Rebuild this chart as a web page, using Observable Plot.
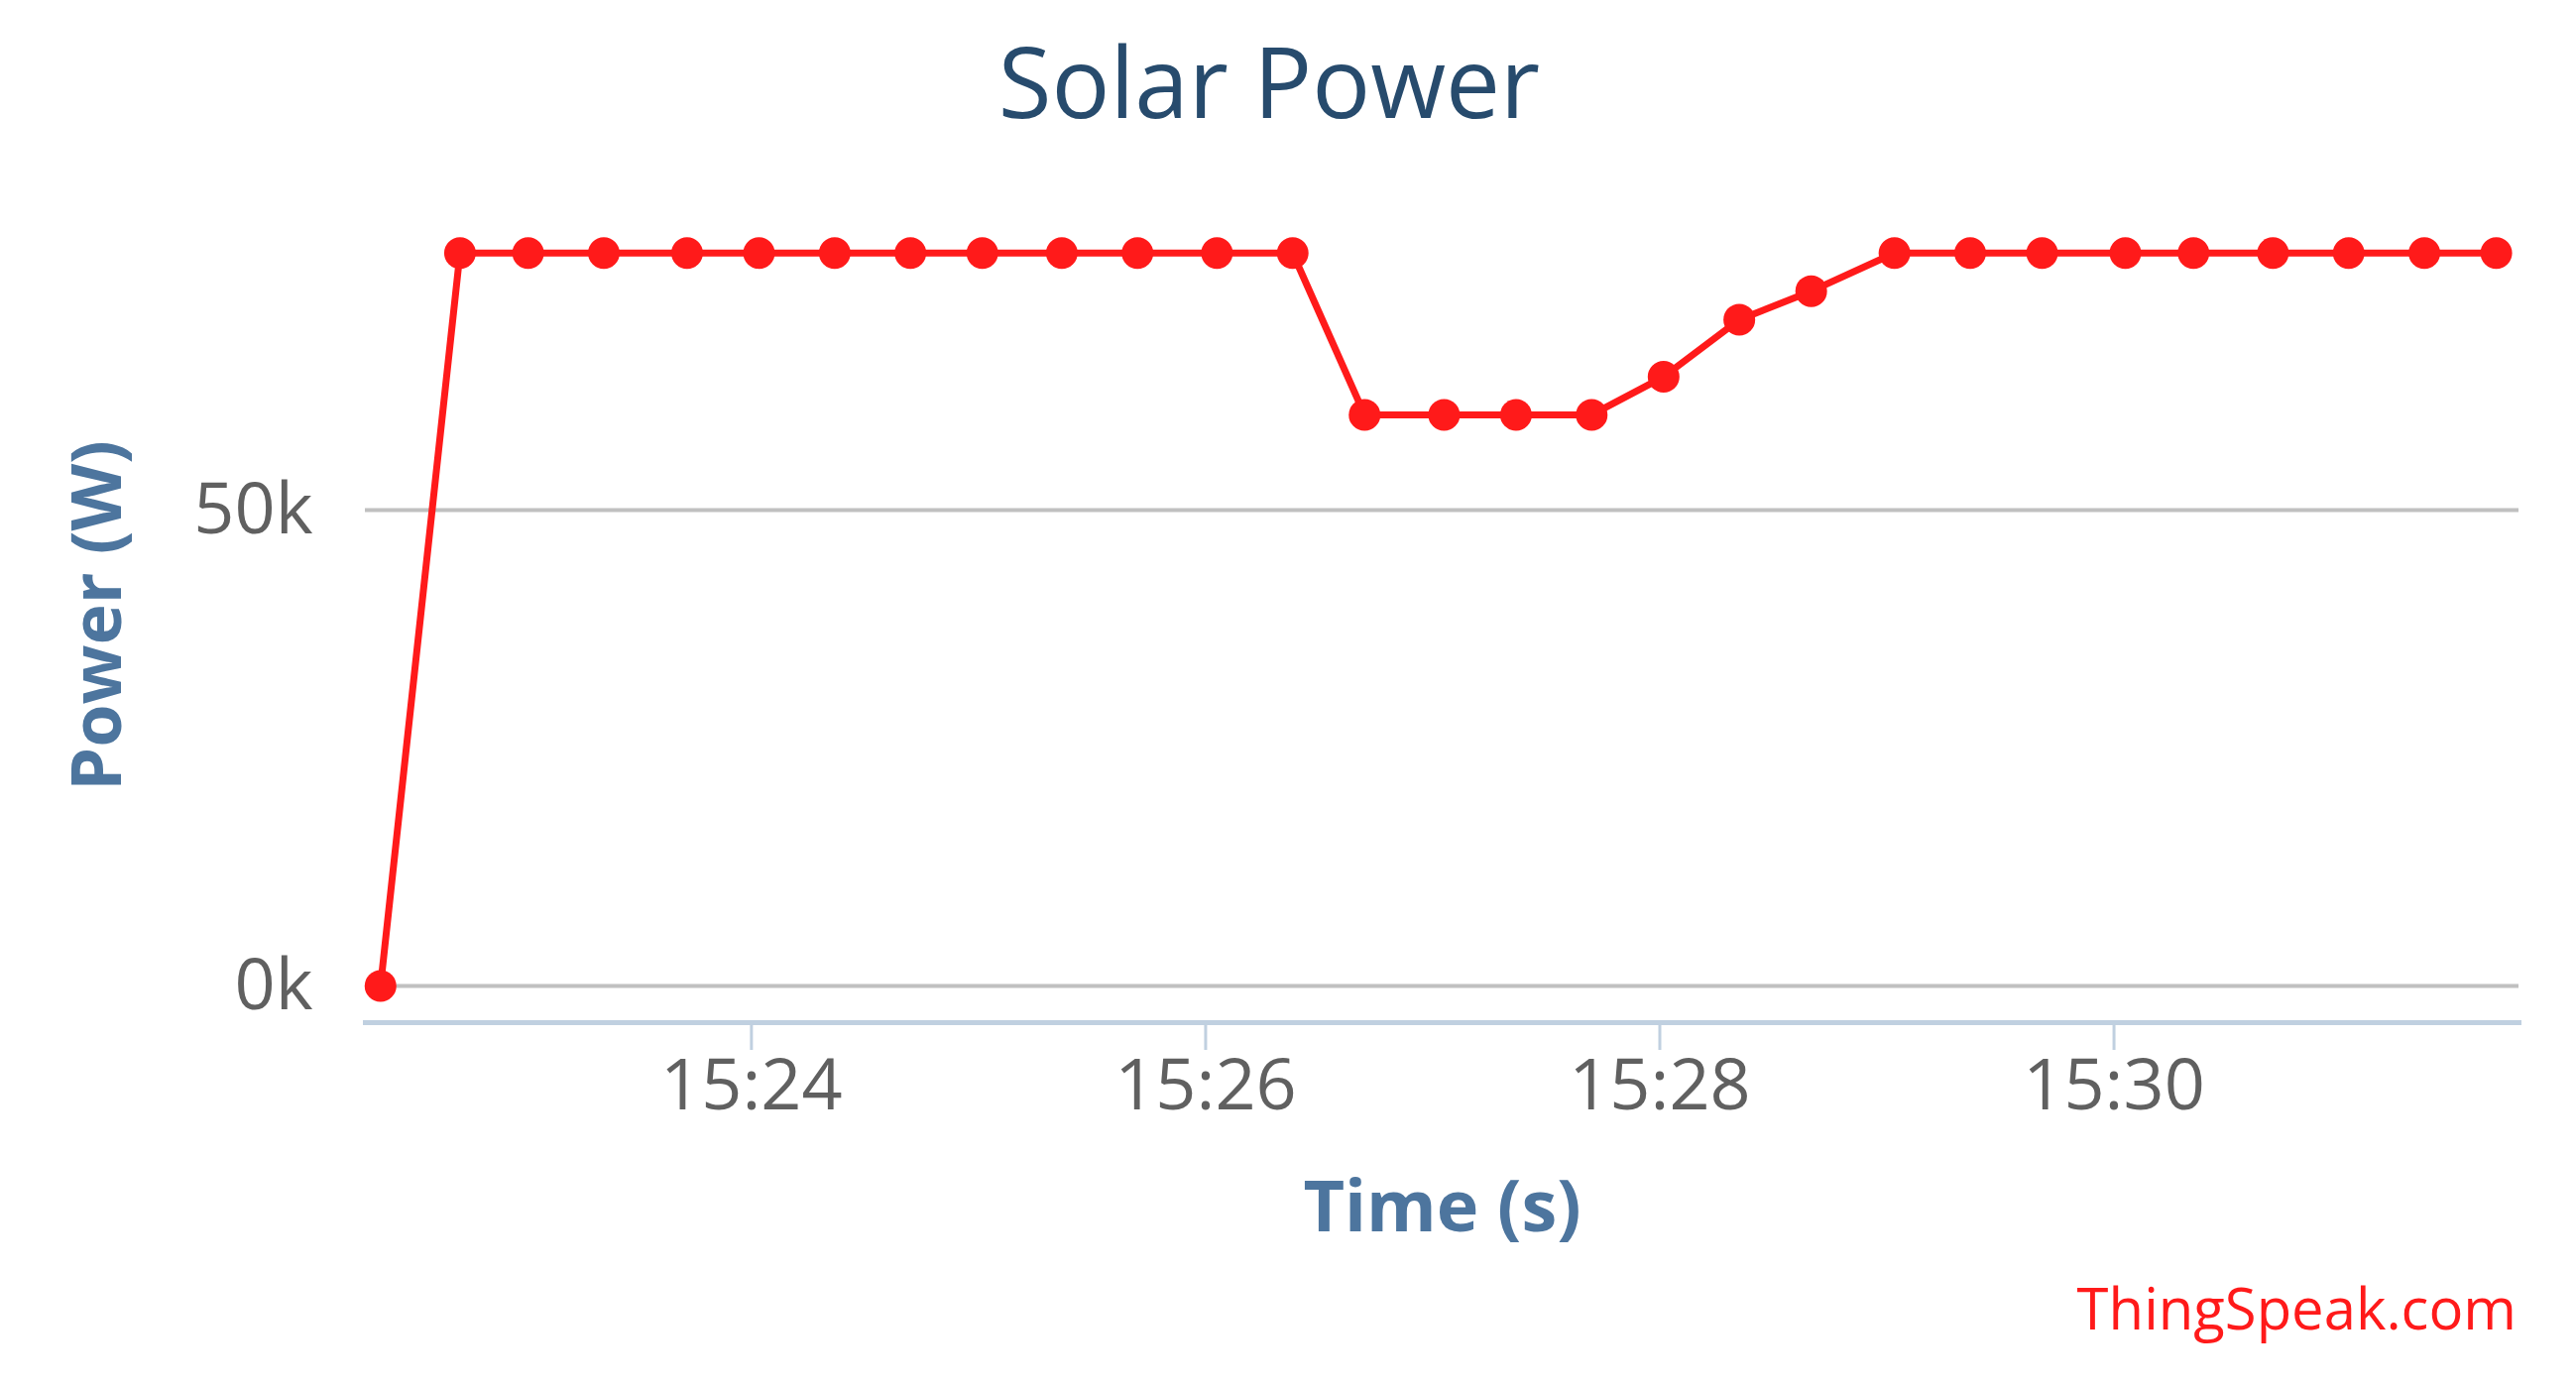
<!DOCTYPE html>
<html>
<head>
<meta charset="utf-8">
<script src="https://cdn.jsdelivr.net/npm/d3@7"></script>
<script src="https://cdn.jsdelivr.net/npm/@observablehq/plot@0.6"></script>
<style>
html, body { margin: 0; padding: 0; background: #ffffff; }
#wrap { position: relative; width: 2598px; height: 1398px; overflow: hidden; font-family: "Open Sans", sans-serif; }
#title { position: absolute; left: 0; width: 2560px; top: 32px; text-align: center; font-size: 98px; line-height: 1; color: #274b6d; }
#chart { position: absolute; left: 0; top: 150px; }
#credit { position: absolute; right: 60px; top: 1290px; font-size: 58px; line-height: 1; color: #ff1a1a; }
</style>
</head>
<body>
<div id="wrap">
  <div id="title">Solar Power</div>
  <div id="chart"></div>
  <div id="credit">ThingSpeak.com</div>
</div>
<script>
// Data
const day = "2024-01-01";
const times = [
  "15:22:22","15:22:43","15:23:01","15:23:21","15:23:43","15:24:02","15:24:22","15:24:42",
  "15:25:01","15:25:22","15:25:42","15:26:03","15:26:23","15:26:42","15:27:03","15:27:22",
  "15:27:42","15:28:01","15:28:21","15:28:40","15:29:02","15:29:22","15:29:41","15:30:03",
  "15:30:21","15:30:42","15:31:02","15:31:22","15:31:41"
];
const power = [
  0, 77000, 77000, 77000, 77000, 77000, 77000, 77000,
  77000, 77000, 77000, 77000, 77000, 60000, 60000, 60000,
  60000, 64000, 70000, 73000, 77000, 77000, 77000, 77000,
  77000, 77000, 77000, 77000, 77000
];
const xTickLabels = ["15:24", "15:26", "15:28", "15:30"];
const yTicks = [0, 50000];
const xDomainLabels = ["15:22:18", "15:31:47"];
const yDomain = [-3850, 82700];

const toDate = s => new Date(`${day}T${s.length === 5 ? s + ":00" : s}Z`);
const data = times.map((t, i) => ({time: toDate(t), power: power[i]}));
const xTicks = xTickLabels.map(toDate);

const chart = Plot.plot({
  width: 2598,
  height: 1130,
  marginLeft: 368,
  marginRight: 58,
  marginTop: 50,
  marginBottom: 249,
  style: {fontFamily: "Open Sans, sans-serif", fontSize: "72px", background: "transparent", overflow: "visible"},
  x: {type: "utc", domain: xDomainLabels.map(toDate)},
  y: {domain: yDomain},
  marks: [
    Plot.gridY(yTicks, {stroke: "#c0c0c0", strokeOpacity: 1, strokeWidth: 4}),
    Plot.frame({anchor: "bottom", stroke: "#c0d0e0", strokeWidth: 5}),
    Plot.axisX(xTicks, {
      tickSize: 28, tickPadding: 8, tickFormat: d3.utcFormat("%H:%M"),
      stroke: "#c0d0e0", strokeWidth: 3, fill: "#606060", fontSize: 72, label: null
    }),
    Plot.axisY(yTicks, {
      tickSize: 0, tickPadding: 53, tickFormat: d => d / 1000 + "k",
      fill: "#606060", fontSize: 72, label: null
    }),
    Plot.text(["Time (s)"], {frameAnchor: "bottom", dy: 210, fontSize: 72, fontWeight: "bold", fill: "#4d759e"}),
    Plot.text(["Power (W)"], {frameAnchor: "left", textAnchor: "middle", rotate: -90, dx: -269, dy: 5, fontSize: 70, fontWeight: "bold", fill: "#4d759e"}),
    Plot.line(data, {x: "time", y: "power", stroke: "#ff1a1a", strokeWidth: 7}),
    Plot.dot(data, {x: "time", y: "power", r: 16, fill: "#ff1a1a", stroke: "none"})
  ]
});
document.getElementById("chart").appendChild(chart);
</script>
</body>
</html>
